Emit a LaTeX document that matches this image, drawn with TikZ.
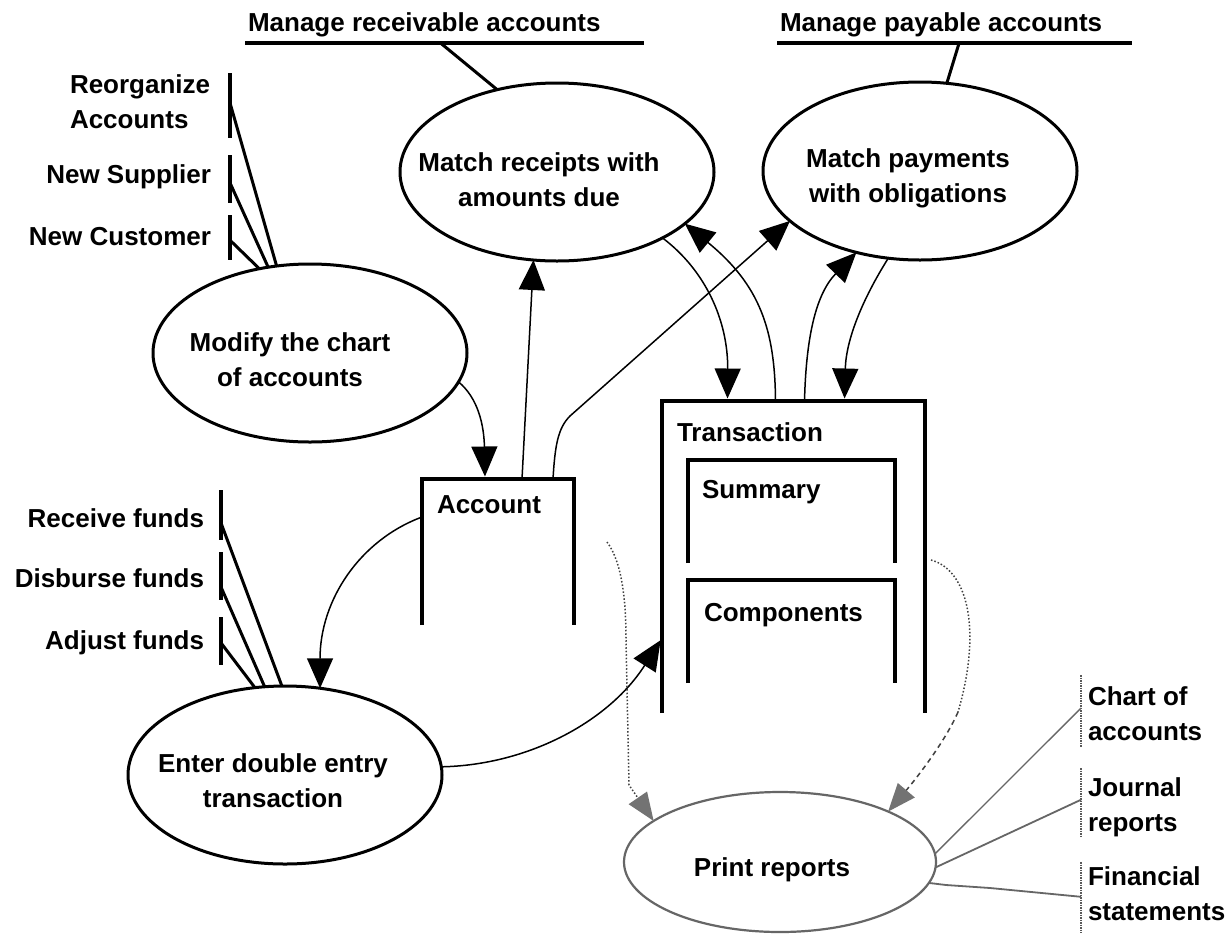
\documentclass[tikz,border=0pt]{standalone}
\usepackage{fontspec}
\setmainfont{Liberation Sans}
\usetikzlibrary{shapes.geometric,arrows.meta,calc}
\begin{document}
\begin{tikzpicture}[x=1pt,y=-1pt,
  every node/.style={font=\fontsize{26}{35}\selectfont\bfseries, inner sep=0pt, outer sep=0pt},
  proc/.style={ellipse, draw, line width=3pt, minimum width=314pt, minimum height=178pt},
  lbl/.style={align=center},
  uline/.style={line width=4pt},
  conn/.style={line width=3pt},
  bar/.style={line width=3.5pt},
  boxn/.style={rectangle, draw=none},
  boxline/.style={line width=4.5pt},
  arr/.style={line width=1.5pt, -{Triangle[length=30pt,width=26pt]}},
  gcol/.style={draw=black!60},
  dotl/.style={line width=1.5pt, black!75, dash pattern=on 1.5pt off 2pt},
  dotarr/.style={dotl, -{Triangle[length=28pt,width=22pt,color=black!55]}},
  dasharr/.style={line width=1.5pt, black!75, dash pattern=on 5pt off 4pt, -{Triangle[length=28pt,width=22pt,color=black!55]}},
  gbar/.style={line width=2.5pt, black!65, dash pattern=on 1.5pt off 1pt},
  gline/.style={line width=1.8pt, black!60}
]
\fill[white] (0,0) rectangle (1231,935);
\useasboundingbox (0,0) rectangle (1231,935);

% top labels
\node[anchor=west] (mra) at (248,25) {Manage receivable accounts};
\draw[uline] (245,43) coordinate (mraL) -- (644,43) coordinate (mraR);
\node[anchor=west] (mpa) at (780,25) {Manage payable accounts};
\draw[uline] (777,43) coordinate (mpaL) -- (1132,43) coordinate (mpaR);

% processes
\node[proc] (recv) at (557,172) {};
\node[lbl] (recvT) at (539,180) {Match receipts with\\amounts due};
\node[proc] (pay) at (920,171) {};
\node[lbl] (payT) at (908,178) {Match payments\\with obligations};
\node[proc] (modify) at (310,353) {};
\node[lbl] (modT) at (290,360) {Modify the chart\\of accounts};
\node[proc] (enter) at (285,775) {};
\node[lbl] (entT) at (273,781) {Enter double entry\\transaction};
\node[proc, gcol, line width=2.2pt, minimum width=312pt, minimum height=140pt] (print) at (780,862) {};
\node (prT) at (772,870) {Print reports};

\draw[conn] ($(mraL)!0.49!(mraR)$) -- (recv.126);
\draw[conn] ($(mpaL)!0.513!(mpaR)$) -- (pay.73);

% top-left events
\node[anchor=west, align=left] (reorg) at (70,102) {Reorganize\\Accounts};
\node[anchor=east] (nsup) at (211,177) {New Supplier};
\node[anchor=east] (ncus) at (211,237) {New Customer};
\draw[bar] (230,73) coordinate (b1t) -- (230,138) coordinate (b1b);
\draw[bar] (230,155) coordinate (b2t) -- (230,203) coordinate (b2b);
\draw[bar] (230,215) coordinate (b3t) -- (230,260) coordinate (b3b);
\draw[conn] ($(b1t)!0.46!(b1b)$) -- (modify.111);
\draw[conn] ($(b2t)!0.58!(b2b)$) -- (modify.116);
\draw[conn] ($(b3t)!0.56!(b3b)$) -- (modify.121);

% bottom-left events
\node[anchor=east] (recf) at (204,518) {Receive funds};
\node[anchor=east] (disf) at (204,578) {Disburse funds};
\node[anchor=east] (adjf) at (204,643) {Adjust funds};
\draw[bar] (221,490) coordinate (d1t) -- (221,540) coordinate (d1b);
\draw[bar] (221,552) coordinate (d2t) -- (221,600) coordinate (d2b);
\draw[bar] (221,617) coordinate (d3t) -- (221,665) coordinate (d3b);
\draw[conn] ($(d1t)!0.66!(d1b)$) -- (enter.92);
\draw[conn] ($(d2t)!0.73!(d2b)$) -- (enter.103);
\draw[conn] ($(d3t)!0.54!(d3b)$) -- (enter.109);

% stores
\node[boxn, minimum width=152pt, minimum height=146pt] (acct) at (498,552) {};
\draw[boxline] (acct.south west) -- (acct.north west) -- (acct.north east) -- (acct.south east);
\node[anchor=west] (acctT) at (437,505) {Account};

\node[boxn, minimum width=263pt, minimum height=312pt] (tx) at (793.5,557) {};
\draw[boxline] (tx.south west) -- (tx.north west) -- (tx.north east) -- (tx.south east);
\node[anchor=west] (txT) at (677,432) {Transaction};

\node[boxn, minimum width=207pt, minimum height=103pt] (summ) at (791.5,511.5) {};
\draw[boxline] (summ.south west) -- (summ.north west) -- (summ.north east) -- (summ.south east);
\node[anchor=west] (summT) at (702,492) {Summary};

\node[boxn, minimum width=207pt, minimum height=103pt] (comp) at (791.5,631.5) {};
\draw[boxline] (comp.south west) -- (comp.north west) -- (comp.north east) -- (comp.south east);
\node[anchor=west] (compT) at (704,615) {Components};

% flows
\draw[arr, shorten >=2.5pt] (modify.-11) .. controls (478,398) and (484,425) .. ([xshift=-13]acct.north);
\draw[arr] ([xshift=24]acct.north) -- (recv.-105);
\draw[arr] ([xshift=55]acct.north) .. controls (555,445) and (558,428) .. (570,416) -- (pay.-159);
\draw[arr, shorten >=2.5pt] (recv.-32) .. controls (705,270) and (728,320) .. ([xshift=-66]tx.north);
\draw[arr] ([xshift=-18]tx.north) .. controls (775,330) and (760,285) .. (recv.-22);
\draw[arr] ([xshift=11]tx.north) .. controls (806,340) and (815,295) .. (pay.-128);
\draw[arr, shorten >=2.5pt] (pay.-110) .. controls (862,300) and (846,340) .. ([xshift=51]tx.north);
\draw[arr] ([yshift=-38]acct.north west) .. controls (360,540) and (320,600) .. (enter.68);
\draw[arr, shorten >=2.5pt] (enter.3) .. controls (530,765) and (610,720) .. ([yshift=-81]tx.west);

% report flows
\draw[dotarr] ([xshift=33,yshift=10]acct.east) .. controls (622,562) and (626,600) .. (626,640) -- (629,785) -- (print.162);
\coordinate (k1) at (958,712);
\draw[dotl] ([xshift=6,yshift=-3]tx.east) .. controls (968,570) and (982,630) .. (k1);
\draw[dasharr] (k1) .. controls (945,742) and (915,780) .. (print.25);

% outputs
\node[anchor=west, align=left] (chart) at (1088,714) {Chart of\\accounts};
\node[anchor=west, align=left] (journ) at (1088,807) {Journal\\reports};
\node[anchor=west, align=left] (fin) at (1088,894) {Financial\\statements};
\draw[gbar] (1081,675) coordinate (c1t) -- (1081,747) coordinate (c1b);
\draw[gbar] (1081,768) coordinate (c2t) -- (1081,837) coordinate (c2b);
\draw[gbar] (1081,862) coordinate (c3t) -- (1081,933) coordinate (c3b);
\draw[gline, line width=1.3pt] (print.3) -- ($(c1t)!0.46!(c1b)$);
\draw[gline] (print.-2) -- ($(c2t)!0.46!(c2b)$);
\draw[gline] (print.-8) -- (946,885) -- (990,888) -- ($(c3t)!0.49!(c3b)$);
\end{tikzpicture}
\end{document}
